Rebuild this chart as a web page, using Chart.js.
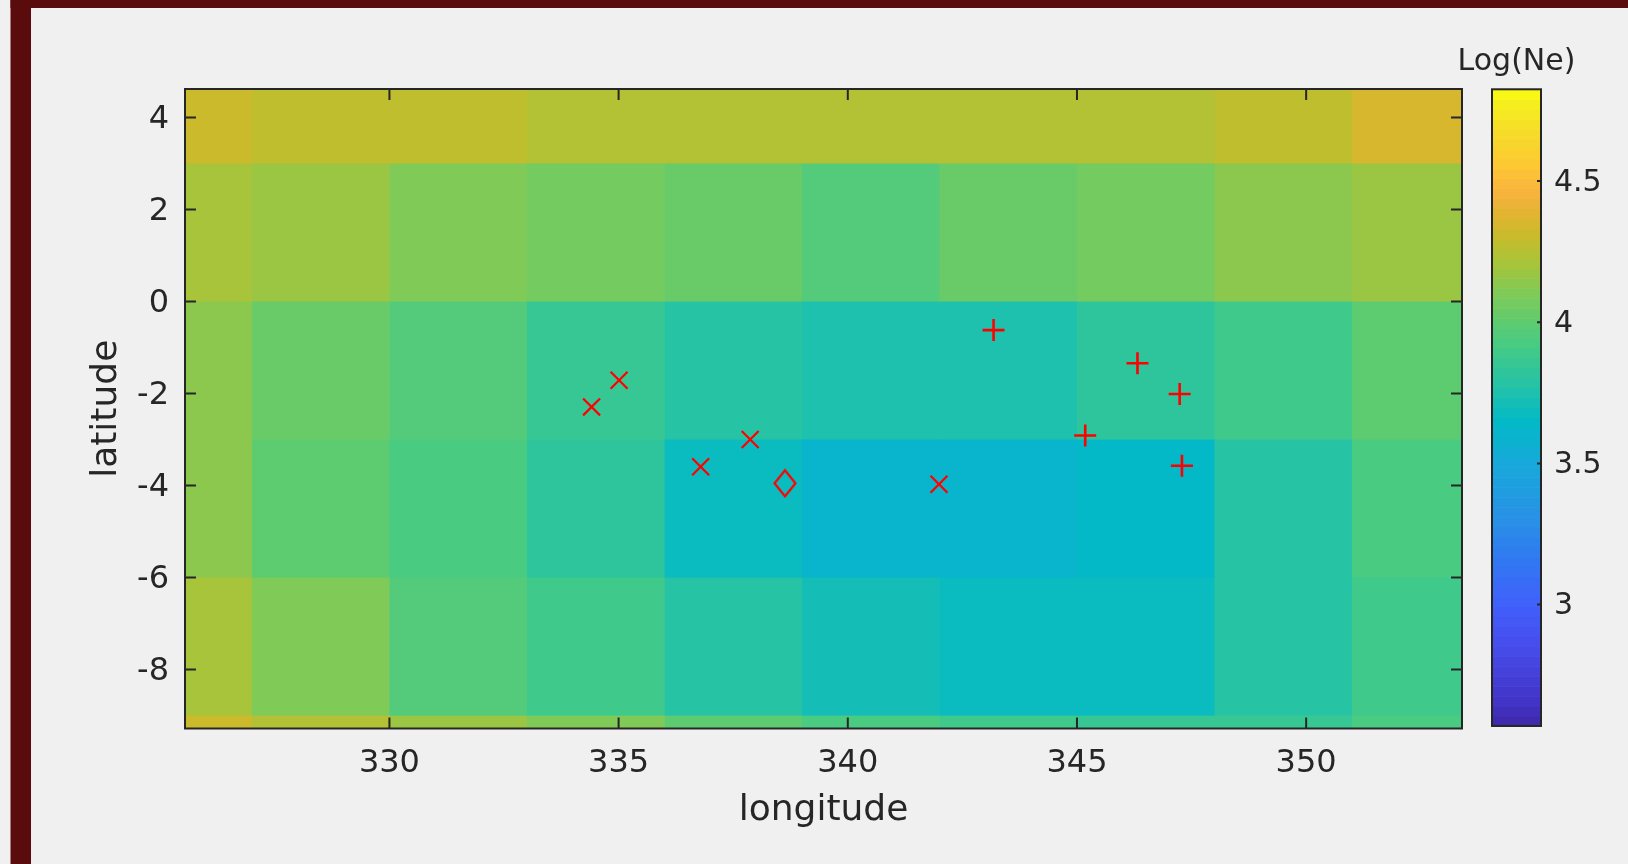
<!DOCTYPE html>
<html>
<head>
<meta charset="utf-8">
<title>Log(Ne)</title>
<script src="https://cdn.jsdelivr.net/npm/chart.js@4.4.0/dist/chart.umd.min.js"></script>
<style>
  html, body { margin: 0; padding: 0; background: #f0f0f0; }
  #wrap { position: relative; width: 1628px; height: 864px; }
</style>
</head>
<body>
<div id="wrap"><canvas id="neMap" width="1628" height="864"></canvas></div>
<script>
// grid cell edges (degrees)
const lonEdges = [324, 327, 330, 333, 336, 339, 342, 345, 348, 351, 354];
const latEdges = [6, 3, 0, -3, -6, -9, -12];

// Log(Ne) per cell, rows north -> south, columns west -> east
const logNe = [
  [4.32, 4.29, 4.29, 4.25, 4.25, 4.25, 4.25, 4.25, 4.29, 4.35],
  [4.21, 4.18, 4.10, 4.06, 4.03, 3.97, 4.03, 4.06, 4.14, 4.18],
  [4.14, 4.04, 3.97, 3.86, 3.79, 3.76, 3.76, 3.83, 3.89, 3.99],
  [4.14, 4.01, 3.93, 3.82, 3.69, 3.60, 3.62, 3.65, 3.77, 3.93],
  [4.20, 4.11, 3.97, 3.89, 3.79, 3.73, 3.68, 3.68, 3.77, 3.89],
  [4.32, 4.25, 4.19, 4.10, 3.98, 3.94, 3.89, 3.84, 3.84, 3.93]
];

// station markers
const xMarkLon = [334.41, 335.01, 336.79, 337.87, 341.99];
const xMarkLat = [-2.29, -1.71, -3.59, -3.00, -3.97];
const plusLon = [343.18, 346.32, 347.24, 345.18, 347.29];
const plusLat = [-0.62, -1.34, -2.01, -2.91, -3.57];
const diamondLon = [338.63];
const diamondLat = [-3.95];

// axes
const lonRange = [325.54, 353.40];
const latRange = [-9.28, 4.62];
const lonTicks = [330, 335, 340, 345, 350];
const latTicks = [-8, -6, -4, -2, 0, 2, 4];
const cLim = [2.57, 4.825];
const cbTicks = [3, 3.5, 4, 4.5];

// parula-like colormap, [position, colour]
const cmapStops = [
  [0.000, '#3e26a8'], [0.035, '#4133c4'], [0.089, '#4542dc'], [0.140, '#4650f0'],
  [0.191, '#4060fa'], [0.260, '#3178f2'], [0.324, '#2890e6'], [0.412, '#18a9da'],
  [0.480, '#02b9c6'], [0.537, '#26c3a6'], [0.590, '#41ca89'], [0.634, '#5ecc70'],
  [0.683, '#82ca55'], [0.725, '#a6c43c'], [0.767, '#c6bc2b'], [0.799, '#ddb52e'],
  [0.831, '#f4b23e'], [0.856, '#fdbb3a'], [0.885, '#fcca31'], [0.936, '#f5dd2a'],
  [0.989, '#f8f519'], [1.000, '#f9fb0e']
];
const nColors = 64;

function hexRgb(h) {
  return [parseInt(h.slice(1, 3), 16), parseInt(h.slice(3, 5), 16), parseInt(h.slice(5, 7), 16)];
}

function stopColor(t) {
  for (let i = 1; i < cmapStops.length; i++) {
    const [p1, c1] = cmapStops[i];
    if (t <= p1) {
      const [p0, c0] = cmapStops[i - 1];
      const f = (t - p0) / (p1 - p0);
      const a = hexRgb(c0), b = hexRgb(c1);
      return 'rgb(' + a.map((v, k) => Math.round(v + (b[k] - v) * f)).join(',') + ')';
    }
  }
  return cmapStops[cmapStops.length - 1][1];
}

function bandColor(k) {
  return stopColor((k + 0.5) / nColors);
}

function valueColor(v) {
  const t = (v - cLim[0]) / (cLim[1] - cLim[0]);
  const k = Math.max(0, Math.min(nColors - 1, Math.floor(t * nColors)));
  return bandColor(k);
}

function diamondGlyph() {
  const c = document.createElement('canvas');
  c.width = 26; c.height = 30;
  const g = c.getContext('2d');
  g.strokeStyle = '#ff0000';
  g.lineWidth = 2.2;
  g.beginPath();
  g.moveTo(13, 2); g.lineTo(23.5, 15); g.lineTo(13, 28); g.lineTo(2.5, 15);
  g.closePath();
  g.stroke();
  return c;
}

const toPoints = (xs, ys) => xs.map((x, i) => ({x: x, y: ys[i]}));

// no extra room for labels hanging past the axis ends
const noOverhang = s => {
  s.paddingTop = 0; s.paddingBottom = 0;
  s.paddingLeft = 0; s.paddingRight = 0;
};

// figure background and the dark frame on top/left
const figureBg = {
  id: 'figureBg',
  beforeDraw(chart) {
    const {ctx, width, height} = chart;
    ctx.save();
    ctx.fillStyle = '#f0f0f0';
    ctx.fillRect(0, 0, width, height);
    ctx.fillStyle = '#5a0b0b';
    ctx.fillRect(10.5, 0, 20.5, height);
    ctx.fillRect(10.5, 0, width, 8);
    ctx.restore();
  }
};

// pcolor-style cells
const heatCells = {
  id: 'heatCells',
  beforeDatasetsDraw(chart) {
    const {ctx, chartArea: a, scales: {x, y}} = chart;
    ctx.save();
    ctx.beginPath();
    ctx.rect(a.left, a.top, a.right - a.left, a.bottom - a.top);
    ctx.clip();
    logNe.forEach((row, r) => {
      const y0 = y.getPixelForValue(latEdges[r]);
      const y1 = y.getPixelForValue(latEdges[r + 1]);
      row.forEach((v, c) => {
        const x0 = x.getPixelForValue(lonEdges[c]);
        const x1 = x.getPixelForValue(lonEdges[c + 1]);
        ctx.fillStyle = valueColor(v);
        ctx.fillRect(x0, y0, x1 - x0 + 0.5, y1 - y0 + 0.5);
      });
    });
    ctx.restore();
  }
};

// box outline with inward ticks on all four sides
const axesBox = {
  id: 'axesBox',
  afterDatasetsDraw(chart) {
    const {ctx, chartArea: a, scales: {x, y}} = chart;
    const len = 11;
    ctx.save();
    ctx.strokeStyle = '#262626';
    ctx.lineWidth = 2;
    ctx.beginPath();
    lonTicks.forEach(v => {
      const px = x.getPixelForValue(v);
      ctx.moveTo(px, a.bottom); ctx.lineTo(px, a.bottom - len);
      ctx.moveTo(px, a.top); ctx.lineTo(px, a.top + len);
    });
    latTicks.forEach(v => {
      const py = y.getPixelForValue(v);
      ctx.moveTo(a.left, py); ctx.lineTo(a.left + len, py);
      ctx.moveTo(a.right, py); ctx.lineTo(a.right - len, py);
    });
    ctx.stroke();
    ctx.strokeRect(a.left, a.top, a.right - a.left, a.bottom - a.top);
    ctx.restore();
  }
};

// colour bar drawn against the cb scale
const colorBar = {
  id: 'colorBar',
  afterDraw(chart) {
    const {ctx} = chart;
    const s = chart.scales.cb;
    const x0 = s.left + 30, w = 49;
    const step = (cLim[1] - cLim[0]) / nColors;
    ctx.save();
    for (let k = 0; k < nColors; k++) {
      const yb = s.getPixelForValue(cLim[0] + k * step);
      const yt = s.getPixelForValue(cLim[0] + (k + 1) * step);
      ctx.fillStyle = bandColor(k);
      ctx.fillRect(x0, yt, w, yb - yt + 0.6);
    }
    const top = s.getPixelForValue(cLim[1]);
    const bot = s.getPixelForValue(cLim[0]);
    ctx.strokeStyle = '#262626';
    ctx.lineWidth = 2;
    ctx.strokeRect(x0, top, w, bot - top);
    ctx.beginPath();
    cbTicks.forEach(v => {
      const py = s.getPixelForValue(v);
      ctx.moveTo(x0 + w, py); ctx.lineTo(x0 + w - 4, py);
    });
    ctx.stroke();
    ctx.fillStyle = '#262626';
    ctx.font = "30px 'DejaVu Sans'";
    ctx.textAlign = 'center';
    ctx.textBaseline = 'alphabetic';
    ctx.fillText('Log(Ne)', x0 + w / 2, 70);
    ctx.restore();
  }
};

Chart.defaults.font.family = "'DejaVu Sans', sans-serif";
Chart.defaults.color = '#262626';

new Chart(document.getElementById('neMap'), {
  type: 'scatter',
  data: {
    datasets: [
      {
        label: 'x',
        data: toPoints(xMarkLon, xMarkLat),
        pointStyle: 'crossRot',
        pointRadius: 12,
        pointHoverRadius: 12,
        borderColor: '#ff0000',
        borderWidth: 2.2
      },
      {
        label: '+',
        data: toPoints(plusLon, plusLat),
        pointStyle: 'cross',
        pointRadius: 11,
        pointHoverRadius: 11,
        borderColor: '#ff0000',
        borderWidth: 2.6
      },
      {
        label: 'diamond',
        data: toPoints(diamondLon, diamondLat),
        pointStyle: diamondGlyph(),
        pointRadius: 13,
        borderColor: '#ff0000'
      }
    ]
  },
  options: {
    responsive: false,
    animation: false,
    events: [],
    layout: { padding: { left: 85, top: 89, right: 0, bottom: 31.5 } },
    plugins: { legend: { display: false }, tooltip: { enabled: false } },
    scales: {
      x: {
        type: 'linear',
        position: 'bottom',
        min: lonRange[0],
        max: lonRange[1],
        grid: { display: false },
        border: { display: false },
        afterBuildTicks: s => { s.ticks = lonTicks.map(v => ({value: v})); },
        afterFit: s => { s.height = 104; noOverhang(s); },
        ticks: {
          font: { size: 32 },
          padding: 8,
          maxRotation: 0,
          autoSkip: false,
          callback: v => String(v)
        },
        title: { display: true, text: 'longitude', font: { size: 36 }, padding: 0 }
      },
      y: {
        type: 'linear',
        position: 'left',
        min: latRange[0],
        max: latRange[1],
        grid: { display: false },
        border: { display: false },
        afterBuildTicks: s => { s.ticks = latTicks.map(v => ({value: v})); },
        afterFit: s => { s.width = 100; noOverhang(s); },
        ticks: {
          font: { size: 32 },
          padding: 8,
          labelOffset: 2,
          autoSkip: false,
          callback: v => String(v)
        },
        title: { display: true, text: 'latitude', font: { size: 36 }, padding: 0 }
      },
      cb: {
        type: 'linear',
        position: 'right',
        min: 2.561,
        max: 4.826,
        grid: { display: false },
        border: { display: false },
        afterBuildTicks: s => { s.ticks = cbTicks.map(v => ({value: v})); },
        afterFit: s => { s.width = 166; noOverhang(s); },
        ticks: {
          font: { size: 30 },
          padding: 84,
          labelOffset: 2,
          autoSkip: false,
          callback: v => String(v)
        }
      }
    }
  },
  plugins: [figureBg, heatCells, axesBox, colorBar]
});
</script>
</body>
</html>
